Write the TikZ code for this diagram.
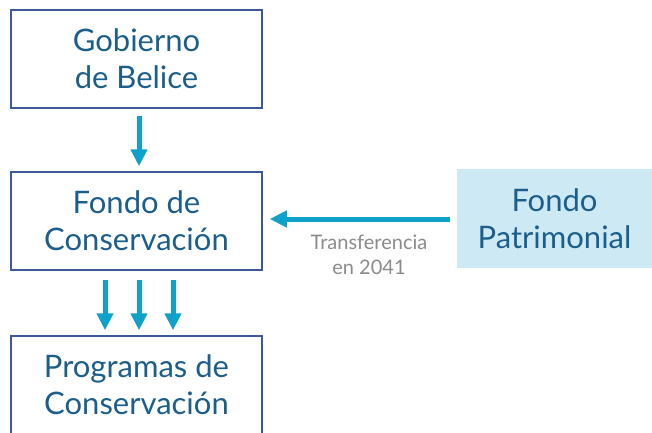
\documentclass[tikz,border=0pt]{standalone}
\usepackage{fontspec}
\setmainfont{Lato}
\usetikzlibrary{arrows.meta}

\definecolor{boxline}{HTML}{3C5A99}
\definecolor{boxtext}{HTML}{1B5E8C}
\definecolor{arrowblue}{HTML}{0EA1C9}
\definecolor{patrfill}{HTML}{CDEAF4}
\definecolor{notegray}{HTML}{8A8A8A}

\tikzset{
    box/.style={draw=boxline, line width=1.5pt, minimum width=251pt, minimum height=98pt,
        align=center, text=boxtext, font=\fontsize{31}{37}\selectfont},
    fillbox/.style={fill=patrfill, minimum width=195pt, minimum height=99pt,
        align=center, text=boxtext, font=\fontsize{31}{37}\selectfont},
    flow/.style={draw=arrowblue, line width=5pt, -{Triangle[width=16pt,length=17pt]}},
    note/.style={align=center, text=notegray, font=\fontsize{20}{25}\selectfont}
}

\begin{document}
\begin{tikzpicture}[x=1pt,y=-1pt]
    \clip (0,0) rectangle (652,432);

    \node[box] (gob) at (136.5,59) {Gobierno\\de Belice};
    \node[box] (fondo) at (136.5,221) {Fondo de\\Conservaci\'on};
    \node[box] (prog) at (136.5,385) {Programas de\\Conservaci\'on};
    \node[fillbox] (patr) at (554.5,218.5) {Fondo\\Patrimonial};
    \node[note] (lab) at (369,255) {Transferencia\\en 2041};

    \draw[flow, shorten <=7pt, shorten >=5pt] ([xshift=2.5pt]gob.south) to ([xshift=2.5pt]fondo.north);
    \draw[flow, shorten <=9pt, shorten >=5pt] ([xshift=-31.5pt]fondo.south) to ([xshift=-31.5pt]prog.north);
    \draw[flow, shorten <=9pt, shorten >=5pt] ([xshift=2.5pt]fondo.south) to ([xshift=2.5pt]prog.north);
    \draw[flow, shorten <=9pt, shorten >=5pt] ([xshift=36.5pt]fondo.south) to ([xshift=36.5pt]prog.north);
    \draw[flow, shorten <=7pt, shorten >=7pt] (patr.west |- 0,219) to (fondo.east |- 0,219);
\end{tikzpicture}
\end{document}
